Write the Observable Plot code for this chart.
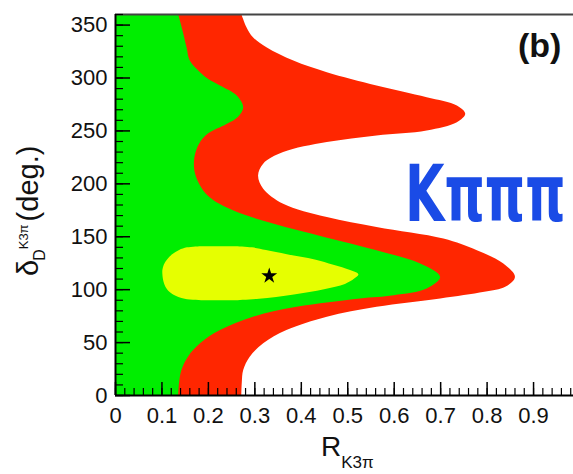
<!DOCTYPE html>
<html><head><meta charset="utf-8">
<script src="https://cdn.jsdelivr.net/npm/d3@7"></script>
<script src="https://cdn.jsdelivr.net/npm/@observablehq/plot@0.6"></script>
<style>body{margin:0;background:#fff;overflow:hidden}</style>
</head><body><div id="chart"></div>
<script>
// Outer (red) contour: right edge in R vs delta (deg)
const redDeg = [0, 12, 23.6, 36.2, 48.8, 61.3, 73.9, 83.3, 91.2, 97.5, 102.2, 111.6, 124.2, 136.8, 147.8, 158.8, 168.2, 180.8, 195, 207.5, 218.6, 229.5, 239, 245.3, 250, 257.8, 265.7, 273.6, 281.4, 292.5, 305, 316, 328.6, 338, 347.5, 360];
const redR   = [0.272, 0.273, 0.276, 0.29, 0.319, 0.369, 0.456, 0.563, 0.70, 0.795, 0.84, 0.861, 0.836, 0.779, 0.707, 0.563, 0.456, 0.362, 0.319, 0.308, 0.319, 0.362, 0.456, 0.563, 0.671, 0.736, 0.754, 0.736, 0.671, 0.563, 0.456, 0.384, 0.326, 0.297, 0.283, 0.272];
// Middle (green) contour
const greenDeg = [0, 12, 23.6, 36.2, 48.8, 61.3, 73.9, 83.3, 91.2, 94.3, 100.6, 111.6, 124.2, 136.8, 149.4, 162, 174.5, 187, 199.7, 212, 224.8, 237.4, 247, 256, 263, 272, 283, 292.5, 298.8, 305, 316, 328.6, 345, 360];
const greenR   = [0.136, 0.138, 0.143, 0.157, 0.183, 0.226, 0.297, 0.391, 0.527, 0.6, 0.671, 0.70, 0.657, 0.563, 0.45, 0.34, 0.254, 0.203, 0.181, 0.171, 0.171, 0.181, 0.2, 0.24, 0.265, 0.276, 0.262, 0.226, 0.2, 0.183, 0.161, 0.154, 0.145, 0.136];
// Inner (yellow) contour: left and right edges
const yellowDeg   = [89.6, 91, 95, 100, 105, 110, 114, 118, 123, 128, 133, 137, 139.5, 140.6];
const yellowLeft  = [0.19, 0.15, 0.125, 0.112, 0.106, 0.103, 0.102, 0.102, 0.105, 0.112, 0.123, 0.138, 0.155, 0.185];
const yellowRight = [0.26, 0.31, 0.385, 0.45, 0.495, 0.515, 0.524, 0.506, 0.47, 0.43, 0.37, 0.325, 0.295, 0.26];
// Best fit point
const bestR = [0.331];
const bestDeg = [113];
// Axis ticks
const xMajor = [0, 0.1, 0.2, 0.3, 0.4, 0.5, 0.6, 0.7, 0.8, 0.9];
const yMajor = [0, 50, 100, 150, 200, 250, 300, 350];
const xMinor = d3.range(0, 0.99, 0.02);
const yMinor = d3.range(0, 361, 10);

const RED = "#ff2600", GREEN = "#00ee00", YEL = "#e6ff00";
const W = 573, H = 474, mL = 115, mT = 14, mB = 79, mR = 0;
const plotW = W - mL - mR, plotH = H - mT - mB;

const redRows = redDeg.map((d, i) => ({deg: d, R: redR[i]}));
const greenRows = greenDeg.map((d, i) => ({deg: d, R: greenR[i]}));
const yellowRows = yellowDeg.map((d, i) => ({deg: d, left: yellowLeft[i], right: yellowRight[i]}));
const best = bestR.map((r, i) => ({R: r, deg: bestDeg[i]}));

const svg = Plot.plot({
  width: W, height: H,
  marginLeft: mL, marginRight: mR, marginTop: mT, marginBottom: mB,
  x: {domain: [0, 0.986], axis: null},
  y: {domain: [0, 360], axis: null},
  style: {fontFamily: "'Liberation Sans', Arial, sans-serif", background: "white", color: "black"},
  marks: [
    Plot.areaX(redRows, {y: "deg", x1: 0, x2: "R", fill: RED, curve: "catmull-rom"}),
    Plot.areaX(greenRows, {y: "deg", x1: 0, x2: "R", fill: GREEN, curve: "catmull-rom"}),
    Plot.areaX(yellowRows, {y: "deg", x1: "left", x2: "right", fill: YEL, curve: "catmull-rom"}),
    Plot.dot(best, {x: "R", y: "deg", symbol: "star", r: 5, fill: "black", stroke: null}),
    Plot.ruleY([360], {stroke: "#444", strokeWidth: 2}),
    Plot.ruleX([0], {stroke: "black", strokeWidth: 2}),
    Plot.ruleY([0], {stroke: "black", strokeWidth: 2}),
    Plot.tickX(xMajor, {x: d => d, insetTop: plotH - 13, stroke: "black", strokeWidth: 1.5}),
    Plot.tickX(xMinor, {x: d => d, insetTop: plotH - 7, stroke: "black", strokeWidth: 1.2}),
    Plot.tickY(yMajor, {y: d => d, insetRight: plotW - 15, stroke: "black", strokeWidth: 1.5}),
    Plot.tickY(yMinor, {y: d => d, insetRight: plotW - 8, stroke: "black", strokeWidth: 1.2}),
    Plot.axisX({ticks: xMajor, tickSize: 0, tickPadding: 12, fontSize: 22, label: null,
                tickFormat: d => d === 0 ? "0" : d.toFixed(1), fill: "#111"}),
    Plot.axisY({ticks: yMajor, tickSize: 0, tickPadding: 8, fontSize: 22, label: null, fill: "#111"})
  ]
});

const s = d3.select(svg);
const fam = "'Liberation Sans', Arial, sans-serif";
// y-axis label
const yl = s.append("text").attr("transform", "translate(38,276) rotate(-90)")
  .attr("text-anchor", "start")
  .attr("font-family", fam).attr("font-size", 29).attr("fill", "#111");
yl.append("tspan").text("δ");
yl.append("tspan").attr("font-size", 16).attr("dy", 7).attr("dx", -1).text("D");
yl.append("tspan").attr("font-size", 13).attr("dy", -17).text("K3π");
yl.append("tspan").attr("dy", 10).attr("dx", 3).text("(deg.)");
// x-axis label
const xl = s.append("text").attr("x", 321).attr("y", 456).attr("text-anchor", "start")
  .attr("font-family", fam).attr("font-size", 28).attr("fill", "#111");
xl.append("tspan").text("R");
xl.append("tspan").attr("font-size", 17).attr("dy", 12).text("K3π");
// panel label
s.append("text").attr("x", 518).attr("y", 57).attr("text-anchor", "start").attr("font-family", fam)
  .attr("font-size", 34).attr("font-weight", "bold").attr("fill", "#111").text("(b)");
// decay mode label
s.append("text").attr("transform", "translate(405,221) scale(1,1.52)").attr("text-anchor", "start")
  .attr("font-family", "'DejaVu Sans', sans-serif")
  .attr("font-size", 51).attr("font-weight", "bold").attr("fill", "#1a4be6")
  .text("Kπππ");

document.getElementById("chart").appendChild(svg);
</script>
</body></html>
